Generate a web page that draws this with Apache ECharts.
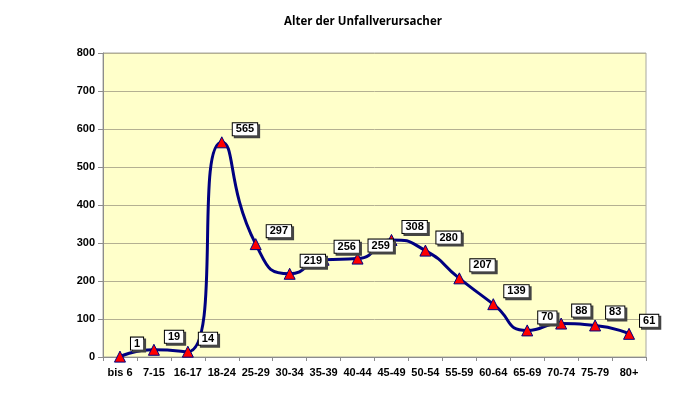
<!DOCTYPE html>
<html><head><meta charset="utf-8">
<script src="https://cdn.jsdelivr.net/npm/echarts@6/dist/echarts.min.js"></script>
<style>html,body{margin:0;padding:0;background:#fff}#c{width:700px;height:396px}</style>
</head><body><div id="c"></div>
<script>
var titleText = "Alter der Unfallverursacher";
var categories = ["bis 6","7-15","16-17","18-24","25-29","30-34","35-39","40-44","45-49","50-54","55-59","60-64","65-69","70-74","75-79","80+"];
var values = [1,19,14,565,297,219,256,259,308,280,207,139,70,88,83,61];
var yTicks = {min:0, max:800, interval:100};

var F = 'Liberation Sans';
var chart = echarts.init(document.getElementById('c'), null, {renderer:'canvas'});
chart.setOption({
  animation:false,
  backgroundColor:'#ffffff',
  title:{text:titleText,left:358,textAlign:'center',top:11,textStyle:{fontFamily:'Open Sans',fontWeight:'bold',fontSize:11.5,color:'#000'}},
  grid:{left:103,right:54,top:53,bottom:39,show:true,backgroundColor:'#ffffca',borderColor:'#a8a8a0',borderWidth:1},
  xAxis:{type:'category',data:categories,boundaryGap:true,
    axisLine:{show:true,lineStyle:{color:'#8c8c8c',width:1}},
    axisTick:{show:true,length:4,alignWithLabel:false,lineStyle:{color:'#8c8c8c'}},
    axisLabel:{interval:0,margin:10,fontFamily:F,fontWeight:'bold',fontSize:11,color:'#000'},
    splitLine:{show:false}},
  yAxis:{type:'value',min:yTicks.min,max:yTicks.max,interval:yTicks.interval,
    axisLine:{show:true,lineStyle:{color:'#8c8c8c'}},
    axisTick:{show:true,length:5,lineStyle:{color:'#8c8c8c'}},
    axisLabel:{margin:8,fontFamily:F,fontWeight:'bold',fontSize:11,color:'#000'},
    splitLine:{show:true,lineStyle:{color:'#b4b092',width:1}}},
  series:[{type:'line',data:values,smooth:0.6,
    lineStyle:{color:'#000080',width:3},
    symbol:'triangle',symbolSize:11,
    itemStyle:{color:'#ff0000',borderColor:'#000080',borderWidth:1},
    label:{show:true,position:'right',distance:5,offset:[0,-13],
      fontFamily:F,fontWeight:'bold',fontSize:11,color:'#000',
      backgroundColor:'#ffffff',borderColor:'#000',borderWidth:1,padding:[1,3,0,3],
      shadowColor:'#444',shadowOffsetX:2,shadowOffsetY:2,shadowBlur:0},
    z:3}]
});
</script></body></html>
